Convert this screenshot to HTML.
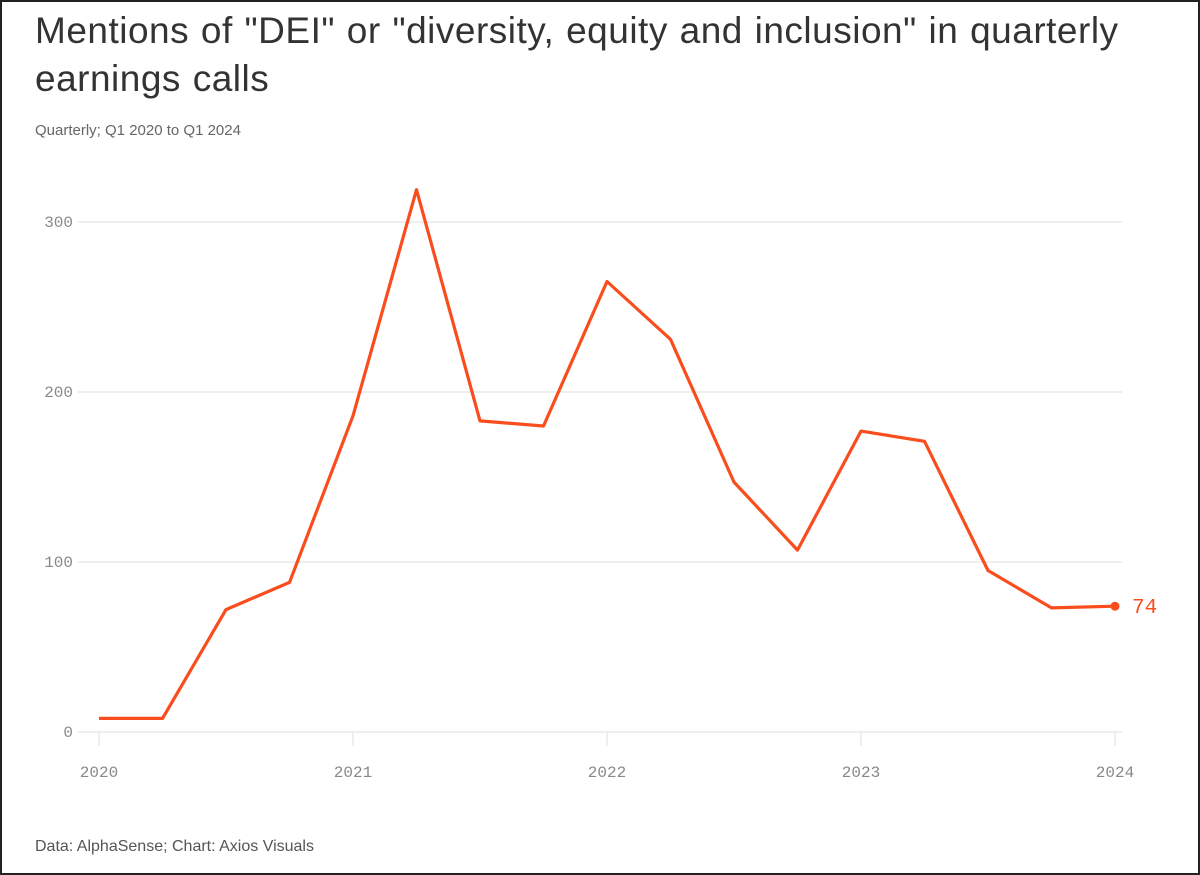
<!DOCTYPE html>
<html><head><meta charset="utf-8"><style>
html,body{margin:0;padding:0;background:#fff}
#frame{position:absolute;left:0;top:0;width:1196px;height:871px;border:2px solid #222;background:#fff;overflow:hidden}
.t{position:absolute;font-family:"Liberation Sans",sans-serif}
</style></head><body>
<div id="frame">
<div class="t" style="left:33px;top:5px;width:1125px;font-size:37px;line-height:48px;color:#333;letter-spacing:0.5px;word-spacing:1px">Mentions of "DEI" or "diversity, equity and inclusion" in quarterly earnings calls</div>
<div class="t" style="left:33px;top:120px;font-size:15px;color:#666">Quarterly; Q1 2020 to Q1 2024</div>
<div class="t" style="left:33px;top:836px;font-size:16px;color:#555">Data: AlphaSense; Chart: Axios Visuals</div>
<svg id="chart" width="1196" height="871" style="position:absolute;left:0;top:0"></svg>
</div>
<script>
const quarters=["Q1 2020","Q2 2020","Q3 2020","Q4 2020","Q1 2021","Q2 2021","Q3 2021","Q4 2021","Q1 2022","Q2 2022","Q3 2022","Q4 2022","Q1 2023","Q2 2023","Q3 2023","Q4 2023","Q1 2024"];
const mentions=[8,8,72,88,186,319,183,180,265,231,147,107,177,171,95,73,74];
const yTicks=[0,100,200,300];
const xTickLabels=["2020","2021","2022","2023","2024"];
const NS="http://www.w3.org/2000/svg";
const svg=document.getElementById('chart');
const off=-2;
const x0=99+off,x1=1115+off,yBase=732+off,yPer=1.70;
function xs(i){return x0+(x1-x0)*i/(quarters.length-1);}
function ys(v){return yBase-v*yPer;}
function mk(tag,attrs){const e=document.createElementNS(NS,tag);for(const k in attrs)e.setAttribute(k,attrs[k]);svg.appendChild(e);return e;}
yTicks.forEach(v=>{
 const g=mk('line',{x1:78+off,x2:1122+off,y1:ys(v),y2:ys(v),stroke:'#e8e8e8','stroke-width':1.5});
 
 
 const t=mk('text',{x:73+off,y:ys(v)+5,'text-anchor':'end','font-family':'Liberation Mono, monospace','font-size':16,fill:'#888'});
 t.textContent=v;
 
 
});
xTickLabels.forEach((lab,k)=>{
 const x=xs(k*4);
 const l=mk('line',{x1:x,x2:x,y1:yBase,y2:yBase+14,stroke:'#e8e8e8','stroke-width':1.5});
 
 
 const t=mk('text',{x:x,y:yBase+45,'text-anchor':'middle','font-family':'Liberation Mono, monospace','font-size':16,fill:'#888'});
 t.textContent=lab;
 
 
});
const p=mk('polyline',{points:mentions.map((v,i)=>xs(i)+','+ys(v)).join(' '),fill:'none',stroke:'#fa4d1d','stroke-width':3.2,'stroke-linejoin':'round'});


const n=mentions.length-1;
const d=mk('circle',{cx:xs(n),cy:ys(mentions[n]),r:4.5,fill:'#fa4d1d'});


const lt=mk('text',{x:xs(n)+17,y:ys(mentions[n])+7,'font-family':'Liberation Mono, monospace','font-size':21,fill:'#fa4d1d'});
lt.textContent=mentions[n];


</script>
</body></html>
